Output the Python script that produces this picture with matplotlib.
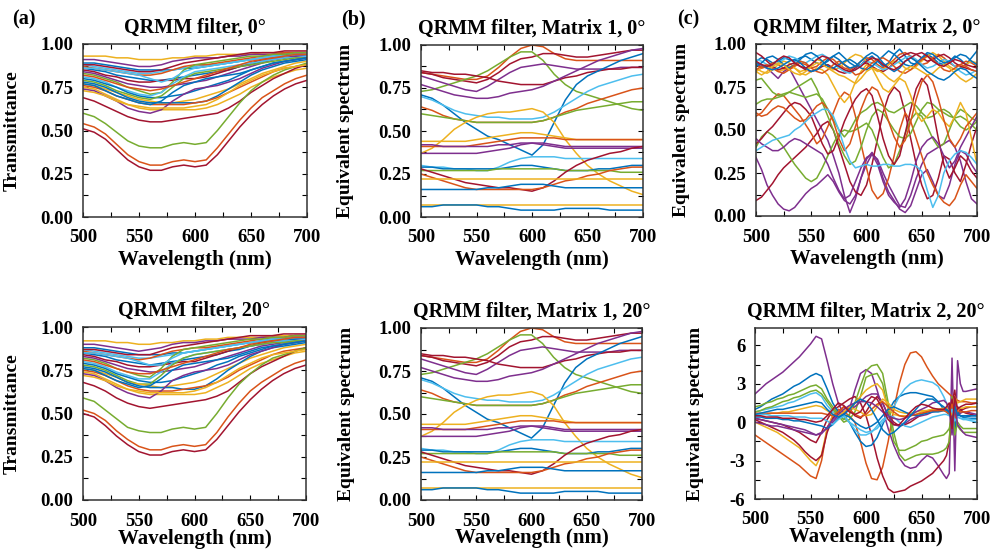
import numpy as np
import matplotlib
matplotlib.use("Agg")
import matplotlib.pyplot as plt
from matplotlib.ticker import MultipleLocator

plt.rcParams['font.family'] = ['Liberation Serif', 'DejaVu Serif']
plt.rcParams['font.weight'] = 'bold'
plt.rcParams['axes.unicode_minus'] = False

# MATLAB default colour order
MC = {'B': '#0072BD', 'O': '#D95319', 'Y': '#EDB120', 'P': '#7E2F8E',
      'G': '#77AC30', 'C': '#4DBEEE', 'R': '#A2142F'}

# ── wavelength grids (nm) ───────────────────────────────────────────────────
wl_ab = np.arange(500, 701, 10)
wl_c0 = np.arange(500, 701, 5)
wl_c20 = np.concatenate([np.arange(500, 671, 5),
                         [672.5, 675, 677.5, 680, 682.5, 685, 687.5, 690, 695, 700]])

# ── (a) QRMM filter transmittance, 0° ───────────────────────────────────────
a0_colors = "YPBCOBRGPCBGYBOYPRGORCOYBR"
a0_curves = [
    [0.93,0.93,0.93,0.92,0.92,0.91,0.91,0.91,0.92,0.92,0.93,0.93,0.94,0.94,0.94,0.94,0.95,0.95,0.95,0.95,0.95],
    [0.91,0.91,0.90,0.89,0.88,0.87,0.87,0.88,0.90,0.91,0.92,0.92,0.92,0.93,0.93,0.94,0.94,0.94,0.95,0.95,0.95],
    [0.89,0.89,0.88,0.87,0.86,0.85,0.85,0.85,0.85,0.86,0.86,0.87,0.88,0.89,0.90,0.91,0.92,0.93,0.94,0.94,0.95],
    [0.88,0.87,0.86,0.85,0.84,0.83,0.83,0.84,0.85,0.86,0.87,0.88,0.88,0.89,0.90,0.91,0.92,0.93,0.93,0.94,0.94],
    [0.87,0.86,0.85,0.84,0.83,0.82,0.82,0.83,0.85,0.87,0.88,0.88,0.89,0.90,0.91,0.92,0.93,0.94,0.95,0.95,0.95],
    [0.86,0.85,0.84,0.82,0.81,0.80,0.79,0.79,0.80,0.81,0.82,0.83,0.84,0.85,0.87,0.88,0.90,0.91,0.92,0.93,0.93],
    [0.85,0.84,0.82,0.81,0.79,0.78,0.78,0.79,0.79,0.80,0.80,0.81,0.83,0.85,0.87,0.89,0.91,0.92,0.93,0.94,0.94],
    [0.83,0.82,0.80,0.78,0.75,0.73,0.71,0.72,0.78,0.85,0.88,0.89,0.90,0.91,0.92,0.93,0.93,0.94,0.94,0.95,0.95],
    [0.84,0.83,0.81,0.79,0.77,0.76,0.75,0.75,0.76,0.77,0.78,0.79,0.81,0.83,0.85,0.87,0.89,0.91,0.92,0.93,0.93],
    [0.81,0.80,0.78,0.75,0.73,0.71,0.70,0.72,0.77,0.81,0.84,0.85,0.86,0.87,0.88,0.89,0.90,0.91,0.92,0.92,0.93],
    [0.80,0.79,0.77,0.75,0.72,0.70,0.69,0.69,0.70,0.71,0.73,0.75,0.77,0.79,0.82,0.85,0.87,0.89,0.90,0.91,0.92],
    [0.79,0.78,0.76,0.73,0.71,0.69,0.68,0.70,0.75,0.80,0.83,0.84,0.85,0.86,0.87,0.88,0.89,0.90,0.91,0.92,0.92],
    [0.77,0.76,0.74,0.72,0.70,0.68,0.67,0.66,0.66,0.67,0.68,0.70,0.72,0.74,0.77,0.80,0.83,0.85,0.87,0.89,0.90],
    [0.78,0.77,0.75,0.72,0.69,0.67,0.66,0.66,0.66,0.66,0.66,0.67,0.70,0.74,0.78,0.82,0.85,0.87,0.89,0.90,0.91],
    [0.76,0.75,0.73,0.70,0.68,0.66,0.65,0.65,0.65,0.65,0.66,0.67,0.69,0.72,0.75,0.78,0.81,0.84,0.86,0.87,0.88],
    [0.75,0.74,0.71,0.68,0.65,0.63,0.62,0.62,0.62,0.62,0.62,0.63,0.65,0.68,0.71,0.75,0.78,0.81,0.83,0.85,0.86],
    [0.74,0.73,0.70,0.67,0.63,0.61,0.60,0.62,0.67,0.71,0.74,0.75,0.76,0.78,0.80,0.83,0.86,0.88,0.90,0.91,0.92],
    [0.69,0.67,0.64,0.61,0.58,0.56,0.55,0.55,0.56,0.57,0.58,0.59,0.60,0.63,0.67,0.72,0.76,0.80,0.83,0.86,0.88],
    [0.60,0.58,0.54,0.49,0.44,0.41,0.40,0.40,0.42,0.43,0.42,0.43,0.50,0.58,0.66,0.73,0.78,0.82,0.85,0.87,0.89],
    [0.54,0.52,0.48,0.42,0.36,0.32,0.30,0.30,0.32,0.33,0.32,0.33,0.40,0.48,0.56,0.63,0.69,0.73,0.77,0.80,0.82],
    [0.51,0.49,0.45,0.39,0.33,0.29,0.27,0.27,0.29,0.30,0.29,0.30,0.36,0.44,0.52,0.59,0.65,0.70,0.74,0.77,0.79],
    [0.86,0.86,0.85,0.84,0.83,0.82,0.80,0.78,0.80,0.84,0.86,0.87,0.88,0.89,0.90,0.91,0.92,0.93,0.93,0.94,0.94],
    [0.82,0.81,0.79,0.77,0.75,0.74,0.73,0.74,0.76,0.78,0.80,0.82,0.84,0.86,0.88,0.90,0.91,0.92,0.93,0.94,0.94],
    [0.73,0.72,0.70,0.67,0.65,0.64,0.63,0.63,0.63,0.63,0.64,0.65,0.68,0.72,0.76,0.79,0.82,0.84,0.86,0.87,0.88],
    [0.77,0.76,0.73,0.70,0.68,0.66,0.65,0.67,0.72,0.76,0.78,0.80,0.81,0.82,0.83,0.85,0.87,0.89,0.90,0.91,0.92],
    [0.88,0.88,0.87,0.86,0.85,0.84,0.84,0.85,0.87,0.89,0.90,0.91,0.92,0.93,0.94,0.95,0.95,0.95,0.96,0.96,0.96],
]

# ── (a) QRMM filter transmittance, 20° ──────────────────────────────────────
a20_colors = a0_colors
a20_curves = [
    [0.92,0.92,0.92,0.91,0.91,0.90,0.90,0.91,0.91,0.92,0.92,0.93,0.93,0.94,0.94,0.94,0.94,0.95,0.95,0.95,0.95],
    [0.90,0.90,0.89,0.88,0.87,0.86,0.87,0.88,0.90,0.91,0.91,0.92,0.92,0.93,0.93,0.93,0.94,0.94,0.94,0.95,0.95],
    [0.88,0.88,0.87,0.86,0.85,0.84,0.84,0.84,0.85,0.85,0.86,0.87,0.88,0.89,0.90,0.91,0.92,0.93,0.93,0.94,0.94],
    [0.87,0.86,0.85,0.84,0.83,0.82,0.82,0.83,0.84,0.85,0.86,0.87,0.88,0.89,0.90,0.91,0.91,0.92,0.93,0.93,0.94],
    [0.86,0.85,0.84,0.83,0.82,0.81,0.82,0.84,0.86,0.87,0.88,0.88,0.89,0.90,0.91,0.92,0.93,0.94,0.94,0.95,0.95],
    [0.85,0.84,0.83,0.81,0.80,0.79,0.78,0.79,0.80,0.81,0.82,0.83,0.84,0.86,0.87,0.89,0.90,0.91,0.92,0.93,0.93],
    [0.84,0.83,0.81,0.80,0.78,0.77,0.77,0.78,0.79,0.80,0.80,0.82,0.84,0.86,0.88,0.89,0.91,0.92,0.93,0.94,0.94],
    [0.82,0.81,0.79,0.76,0.74,0.72,0.71,0.76,0.83,0.87,0.88,0.89,0.90,0.91,0.92,0.93,0.93,0.94,0.94,0.95,0.95],
    [0.83,0.82,0.80,0.78,0.76,0.75,0.74,0.74,0.75,0.76,0.77,0.79,0.81,0.83,0.85,0.87,0.89,0.90,0.91,0.92,0.93],
    [0.80,0.79,0.77,0.74,0.72,0.70,0.70,0.74,0.79,0.82,0.84,0.85,0.86,0.87,0.88,0.89,0.90,0.91,0.92,0.92,0.93],
    [0.79,0.78,0.76,0.73,0.71,0.69,0.68,0.68,0.69,0.71,0.73,0.75,0.78,0.80,0.83,0.85,0.87,0.89,0.90,0.91,0.92],
    [0.78,0.77,0.75,0.72,0.69,0.67,0.67,0.72,0.78,0.82,0.84,0.85,0.86,0.87,0.88,0.89,0.90,0.91,0.91,0.92,0.92],
    [0.76,0.75,0.73,0.71,0.68,0.67,0.66,0.65,0.66,0.67,0.68,0.70,0.73,0.76,0.79,0.82,0.84,0.86,0.88,0.89,0.90],
    [0.77,0.76,0.74,0.71,0.68,0.66,0.65,0.65,0.65,0.64,0.64,0.66,0.70,0.75,0.79,0.83,0.86,0.88,0.89,0.90,0.91],
    [0.75,0.74,0.72,0.69,0.66,0.64,0.63,0.63,0.63,0.64,0.65,0.66,0.68,0.71,0.75,0.78,0.81,0.84,0.86,0.87,0.88],
    [0.74,0.73,0.70,0.67,0.64,0.62,0.61,0.61,0.61,0.61,0.61,0.62,0.65,0.68,0.72,0.76,0.79,0.81,0.83,0.85,0.86],
    [0.73,0.72,0.69,0.65,0.62,0.60,0.59,0.63,0.69,0.72,0.74,0.75,0.76,0.78,0.81,0.84,0.86,0.88,0.90,0.91,0.92],
    [0.68,0.66,0.63,0.59,0.56,0.54,0.53,0.54,0.55,0.56,0.57,0.58,0.60,0.63,0.68,0.73,0.77,0.80,0.83,0.86,0.88],
    [0.59,0.57,0.52,0.47,0.42,0.40,0.39,0.39,0.41,0.42,0.41,0.42,0.50,0.59,0.67,0.73,0.78,0.82,0.84,0.86,0.88],
    [0.52,0.50,0.46,0.40,0.35,0.31,0.29,0.29,0.31,0.32,0.31,0.32,0.39,0.48,0.56,0.63,0.68,0.72,0.76,0.79,0.81],
    [0.50,0.48,0.43,0.37,0.32,0.28,0.26,0.26,0.28,0.29,0.28,0.29,0.35,0.43,0.51,0.58,0.64,0.69,0.73,0.76,0.78],
    [0.85,0.85,0.84,0.83,0.82,0.80,0.78,0.78,0.82,0.85,0.86,0.87,0.88,0.89,0.90,0.91,0.92,0.93,0.93,0.94,0.94],
    [0.81,0.80,0.78,0.76,0.74,0.73,0.73,0.75,0.77,0.79,0.81,0.83,0.85,0.87,0.88,0.90,0.91,0.92,0.93,0.94,0.94],
    [0.72,0.71,0.69,0.66,0.64,0.63,0.62,0.62,0.62,0.62,0.63,0.65,0.68,0.72,0.76,0.79,0.82,0.84,0.85,0.86,0.87],
    [0.76,0.75,0.72,0.69,0.67,0.65,0.66,0.70,0.75,0.78,0.79,0.80,0.81,0.82,0.84,0.86,0.88,0.89,0.90,0.91,0.92],
    [0.87,0.87,0.86,0.85,0.84,0.84,0.84,0.86,0.88,0.89,0.90,0.91,0.92,0.93,0.94,0.95,0.95,0.95,0.96,0.96,0.96],
]

# ── (b) Matrix 1 equivalent spectra (0° and 20° read the same) ──────────────
b0_colors = "ORGPRPBCOGYYOPPCBGROYBYB"
b0_curves = [
    [0.84,0.83,0.82,0.81,0.80,0.80,0.82,0.87,0.93,0.98,1.00,0.99,0.95,0.92,0.91,0.91,0.91,0.91,0.91,0.91,0.91],
    [0.84,0.83,0.81,0.80,0.79,0.78,0.80,0.84,0.89,0.92,0.93,0.95,0.95,0.94,0.93,0.93,0.94,0.95,0.96,0.97,0.97],
    [0.73,0.74,0.76,0.78,0.80,0.82,0.85,0.89,0.93,0.96,0.96,0.91,0.83,0.77,0.73,0.71,0.69,0.67,0.65,0.63,0.62],
    [0.82,0.80,0.78,0.76,0.74,0.73,0.76,0.80,0.84,0.87,0.88,0.89,0.88,0.87,0.86,0.86,0.86,0.86,0.87,0.87,0.87],
    [0.85,0.84,0.84,0.83,0.83,0.82,0.81,0.79,0.78,0.77,0.77,0.77,0.79,0.81,0.82,0.84,0.85,0.86,0.86,0.87,0.87],
    [0.77,0.75,0.73,0.71,0.70,0.69,0.69,0.70,0.72,0.73,0.74,0.76,0.79,0.82,0.85,0.88,0.91,0.93,0.95,0.97,0.98],
    [0.71,0.69,0.65,0.60,0.55,0.51,0.47,0.45,0.42,0.39,0.36,0.42,0.55,0.68,0.77,0.82,0.85,0.88,0.91,0.93,0.95],
    [0.70,0.68,0.65,0.62,0.60,0.59,0.58,0.58,0.57,0.57,0.57,0.58,0.61,0.65,0.69,0.73,0.76,0.78,0.80,0.82,0.83],
    [0.64,0.62,0.59,0.57,0.56,0.55,0.55,0.55,0.55,0.55,0.55,0.56,0.58,0.61,0.63,0.66,0.68,0.70,0.72,0.74,0.75],
    [0.60,0.59,0.58,0.57,0.56,0.55,0.55,0.55,0.55,0.55,0.55,0.56,0.58,0.60,0.62,0.63,0.64,0.65,0.66,0.67,0.67],
    [0.37,0.40,0.45,0.51,0.55,0.58,0.60,0.61,0.61,0.62,0.63,0.61,0.55,0.45,0.37,0.30,0.25,0.21,0.18,0.15,0.13],
    [0.44,0.44,0.44,0.44,0.44,0.45,0.46,0.47,0.48,0.49,0.49,0.48,0.47,0.46,0.45,0.45,0.45,0.45,0.45,0.45,0.45],
    [0.41,0.41,0.41,0.41,0.41,0.42,0.43,0.44,0.45,0.46,0.46,0.46,0.46,0.45,0.45,0.45,0.45,0.45,0.45,0.45,0.45],
    [0.42,0.42,0.41,0.41,0.41,0.41,0.41,0.42,0.42,0.43,0.43,0.43,0.42,0.41,0.41,0.41,0.41,0.41,0.41,0.41,0.41],
    [0.37,0.37,0.37,0.37,0.37,0.37,0.38,0.39,0.40,0.42,0.43,0.42,0.41,0.40,0.40,0.40,0.40,0.40,0.40,0.40,0.40],
    [0.30,0.29,0.29,0.28,0.28,0.27,0.27,0.29,0.32,0.34,0.35,0.35,0.35,0.34,0.34,0.34,0.34,0.34,0.34,0.34,0.34],
    [0.29,0.29,0.28,0.28,0.28,0.28,0.28,0.28,0.29,0.30,0.30,0.29,0.28,0.27,0.27,0.27,0.28,0.28,0.29,0.30,0.30],
    [0.27,0.27,0.27,0.27,0.27,0.27,0.27,0.28,0.28,0.28,0.28,0.28,0.28,0.27,0.27,0.27,0.27,0.27,0.26,0.26,0.26],
    [0.28,0.26,0.24,0.22,0.20,0.19,0.18,0.17,0.17,0.16,0.15,0.17,0.21,0.26,0.30,0.33,0.35,0.37,0.38,0.40,0.41],
    [0.25,0.23,0.21,0.19,0.17,0.16,0.16,0.16,0.16,0.16,0.16,0.17,0.19,0.21,0.22,0.24,0.25,0.27,0.28,0.29,0.29],
    [0.22,0.22,0.22,0.22,0.22,0.22,0.22,0.22,0.22,0.22,0.22,0.22,0.22,0.22,0.22,0.22,0.22,0.22,0.22,0.22,0.22],
    [0.16,0.16,0.16,0.16,0.16,0.16,0.17,0.17,0.18,0.19,0.19,0.19,0.18,0.17,0.17,0.17,0.17,0.17,0.17,0.17,0.17],
    [0.07,0.07,0.07,0.07,0.07,0.07,0.07,0.07,0.07,0.07,0.07,0.07,0.07,0.07,0.07,0.07,0.07,0.07,0.07,0.07,0.07],
    [0.06,0.06,0.07,0.07,0.07,0.07,0.06,0.06,0.05,0.04,0.04,0.04,0.04,0.05,0.05,0.05,0.05,0.04,0.04,0.04,0.04],
]
b20_colors = b0_colors
b20_curves = b0_curves

# ── (c) Matrix 2 equivalent spectra, 0° ─────────────────────────────────────
c0_colors = "PPROGGGRPYOCBOYRCBOYBR"
c0_curves = [
    [0.88,0.87,0.86,0.83,0.80,0.84,0.86,0.80,0.74,0.68, 0.62,0.56,0.50,0.44,0.35,0.25,0.12,0.02,0.10,0.22,
     0.30,0.36,0.33,0.25,0.18,0.12,0.06,0.05,0.12,0.22, 0.30,0.36,0.38,0.40,0.42,0.44,0.40,0.32,0.20,0.10, 0.07],
    [0.34,0.27,0.18,0.12,0.07,0.04,0.03,0.05,0.09,0.13, 0.16,0.18,0.21,0.24,0.20,0.14,0.09,0.07,0.12,0.22,
     0.33,0.37,0.32,0.22,0.14,0.09,0.04,0.02,0.06,0.15, 0.24,0.27,0.20,0.12,0.10,0.18,0.30,0.38,0.36,0.30, 0.25],
    [0.09,0.11,0.15,0.19,0.24,0.28,0.31,0.34,0.37,0.40, 0.44,0.48,0.53,0.55,0.50,0.40,0.30,0.20,0.14,0.12,
     0.18,0.30,0.45,0.60,0.70,0.75,0.72,0.60,0.45,0.30, 0.18,0.10,0.12,0.22,0.35,0.33,0.25,0.20,0.30,0.42, 0.52],
    [0.58,0.60,0.64,0.68,0.71,0.70,0.66,0.62,0.58,0.53, 0.48,0.42,0.45,0.52,0.60,0.68,0.72,0.70,0.58,0.42,
     0.28,0.15,0.10,0.13,0.22,0.35,0.50,0.60,0.55,0.45, 0.35,0.25,0.18,0.12,0.08,0.06,0.10,0.18,0.24,0.20, 0.16],
    [0.40,0.46,0.49,0.47,0.44,0.40,0.35,0.30,0.26,0.22, 0.20,0.22,0.28,0.35,0.42,0.48,0.50,0.49,0.50,0.52,
     0.54,0.50,0.42,0.34,0.28,0.30,0.38,0.48,0.56,0.60, 0.58,0.52,0.45,0.40,0.42,0.50,0.58,0.62,0.60,0.57, 0.55],
    [0.79,0.80,0.76,0.72,0.70,0.71,0.72,0.74,0.76,0.78, 0.80,0.74,0.66,0.58,0.50,0.42,0.35,0.30,0.32,0.40,
     0.50,0.58,0.62,0.60,0.55,0.50,0.46,0.45,0.48,0.55, 0.62,0.66,0.65,0.62,0.60,0.58,0.57,0.58,0.56,0.53, 0.50],
    [0.65,0.67,0.68,0.68,0.69,0.70,0.72,0.71,0.70,0.69, 0.70,0.71,0.68,0.62,0.56,0.50,0.46,0.50,0.56,0.60,
     0.62,0.65,0.66,0.64,0.61,0.60,0.62,0.64,0.66,0.64, 0.60,0.57,0.58,0.61,0.62,0.60,0.56,0.52,0.50,0.52, 0.55],
    [0.42,0.45,0.49,0.52,0.56,0.60,0.64,0.66,0.65,0.62, 0.58,0.50,0.42,0.36,0.38,0.46,0.55,0.62,0.68,0.72,
     0.74,0.70,0.58,0.45,0.35,0.30,0.35,0.48,0.62,0.74, 0.80,0.76,0.62,0.45,0.30,0.22,0.28,0.35,0.32,0.26, 0.22],
    [0.45,0.42,0.40,0.38,0.38,0.40,0.43,0.45,0.44,0.42, 0.40,0.38,0.36,0.30,0.22,0.15,0.10,0.12,0.20,0.28,
     0.34,0.36,0.30,0.20,0.12,0.08,0.05,0.10,0.20,0.32, 0.40,0.44,0.46,0.42,0.35,0.28,0.32,0.40,0.46,0.52, 0.58],
    [0.84,0.86,0.87,0.86,0.84,0.85,0.87,0.86,0.83,0.82, 0.84,0.86,0.85,0.82,0.76,0.70,0.66,0.70,0.78,0.84,
     0.88,0.86,0.80,0.74,0.72,0.76,0.80,0.78,0.70,0.60, 0.55,0.58,0.62,0.60,0.55,0.52,0.58,0.66,0.60,0.45, 0.30],
    [0.60,0.58,0.59,0.62,0.64,0.63,0.60,0.57,0.55,0.56, 0.60,0.64,0.66,0.62,0.55,0.45,0.38,0.42,0.52,0.62,
     0.70,0.75,0.73,0.65,0.55,0.46,0.40,0.44,0.55,0.68, 0.78,0.82,0.78,0.68,0.56,0.45,0.40,0.45,0.52,0.56, 0.60],
    [0.38,0.40,0.42,0.44,0.45,0.46,0.47,0.50,0.52,0.55, 0.58,0.60,0.62,0.62,0.58,0.50,0.40,0.32,0.28,0.29,
     0.30,0.29,0.29,0.30,0.30,0.29,0.29,0.30,0.30,0.29, 0.26,0.15,0.05,0.12,0.25,0.32,0.36,0.38,0.37,0.34, 0.30],
    [0.90,0.92,0.91,0.89,0.90,0.92,0.91,0.90,0.92,0.93, 0.91,0.89,0.88,0.90,0.93,0.95,0.92,0.89,0.87,0.88,
     0.91,0.93,0.90,0.87,0.89,0.94,0.97,0.93,0.89,0.88, 0.91,0.94,0.92,0.89,0.88,0.90,0.93,0.91,0.88,0.92, 0.96],
    [0.88,0.86,0.87,0.89,0.88,0.86,0.85,0.87,0.89,0.88, 0.86,0.87,0.90,0.92,0.91,0.88,0.86,0.85,0.87,0.90,
     0.92,0.91,0.88,0.86,0.88,0.91,0.94,0.95,0.93,0.90, 0.88,0.89,0.92,0.94,0.92,0.89,0.87,0.88,0.90,0.89, 0.87],
    [0.86,0.84,0.83,0.85,0.88,0.90,0.89,0.86,0.84,0.85, 0.88,0.91,0.90,0.87,0.85,0.86,0.89,0.92,0.94,0.93,
     0.90,0.86,0.84,0.85,0.88,0.90,0.89,0.86,0.85,0.87, 0.90,0.93,0.95,0.93,0.90,0.87,0.85,0.86,0.88,0.90, 0.89],
    [0.95,0.93,0.90,0.87,0.85,0.86,0.88,0.89,0.87,0.85, 0.84,0.85,0.87,0.88,0.86,0.84,0.83,0.84,0.86,0.88,
     0.89,0.87,0.85,0.84,0.86,0.89,0.92,0.94,0.95,0.94, 0.92,0.90,0.91,0.93,0.94,0.92,0.89,0.87,0.86,0.85, 0.84],
    [0.91,0.90,0.88,0.87,0.89,0.91,0.93,0.92,0.90,0.89, 0.91,0.93,0.94,0.92,0.89,0.86,0.84,0.83,0.85,0.88,
     0.90,0.89,0.87,0.85,0.86,0.88,0.90,0.92,0.93,0.91, 0.88,0.86,0.87,0.89,0.91,0.90,0.87,0.84,0.82,0.83, 0.85],
    [0.87,0.89,0.92,0.93,0.91,0.88,0.86,0.88,0.91,0.94, 0.95,0.93,0.90,0.87,0.86,0.88,0.90,0.91,0.89,0.86,
     0.85,0.87,0.90,0.93,0.96,0.94,0.91,0.88,0.87,0.89, 0.92,0.95,0.94,0.91,0.89,0.90,0.92,0.94,0.93,0.90, 0.88],
    [0.85,0.87,0.88,0.86,0.84,0.83,0.85,0.88,0.90,0.89, 0.86,0.84,0.83,0.85,0.88,0.90,0.88,0.85,0.82,0.83,
     0.86,0.89,0.91,0.92,0.90,0.87,0.84,0.83,0.85,0.88, 0.91,0.93,0.91,0.88,0.85,0.84,0.86,0.88,0.87,0.85, 0.84],
    [0.84,0.82,0.84,0.87,0.89,0.88,0.85,0.83,0.82,0.84, 0.87,0.89,0.88,0.86,0.84,0.82,0.81,0.79,0.77,0.80,
     0.84,0.86,0.85,0.83,0.80,0.78,0.81,0.85,0.87,0.86, 0.84,0.82,0.83,0.86,0.88,0.86,0.83,0.80,0.78,0.80, 0.83],
    [0.89,0.88,0.86,0.85,0.86,0.88,0.90,0.91,0.89,0.86, 0.84,0.85,0.88,0.91,0.93,0.91,0.88,0.86,0.87,0.90,
     0.93,0.95,0.93,0.89,0.86,0.84,0.86,0.90,0.92,0.90, 0.87,0.84,0.82,0.80,0.79,0.81,0.84,0.86,0.85,0.82, 0.80],
    [0.90,0.88,0.87,0.88,0.91,0.93,0.92,0.89,0.87,0.86, 0.88,0.91,0.93,0.92,0.89,0.87,0.85,0.84,0.85,0.87,
     0.90,0.92,0.91,0.88,0.86,0.85,0.87,0.90,0.92,0.94, 0.95,0.93,0.90,0.88,0.87,0.89,0.91,0.90,0.88,0.87, 0.86],
]

# ── (c) Matrix 2 equivalent spectra, 20° ────────────────────────────────────
c20_colors = "PORBCGGYRPYBOCPBR"
c20_curves = [
    [2.2,2.6,3.0,3.3,3.6,3.9,4.3,4.7,5.1,5.6, 6.1,6.7,6.5,4.8,3.0,1.5,0.6,1.0,2.5,3.8,
     4.1,3.8,2.5,1.0,-0.5,-1.8,-2.8,-3.4,-3.6,-3.5, -3.0,-2.6,-2.8,-3.4,-4.1, -4.4,-4.0,5.0,-3.8,4.8,3.0,2.4,2.4,2.5,2.6],
    [-1.0,-1.3,-1.6,-1.9,-2.2,-2.5,-2.8,-3.1,-3.4,-3.8, -4.2,-4.4,-3.0,-0.5,0.5,1.0,0.8,0.5,0.0,-1.5,
     -3.2,-4.4,-4.5,-3.5,-1.5,1.0,3.0,4.5,5.4,5.5, 5.1,4.3,3.6,3.0,2.6, 2.4,2.2,2.0,1.8,1.7,1.6,1.6,1.6,1.5,1.5],
    [0.3,0.2,0.1,0.0,-0.1,-0.2,-0.4,-0.6,-0.8,-1.1, -1.4,-1.6,-0.8,0.2,0.9,1.2,1.5,1.8,2.0,1.5,
     0.5,-1.0,-2.8,-4.2,-5.2,-5.5,-5.4,-5.3,-5.0,-4.8, -4.6,-4.3,-4.0,-3.5,-3.0, -2.6,-1.5,1.5,2.5,0.5,1.0,0.8,0.7,0.6,0.5],
    [1.0,1.2,1.5,1.8,2.0,2.2,2.5,2.8,3.0,3.3, 3.6,3.8,3.6,2.6,1.5,0.8,0.5,0.0,-0.8,-1.5,
     -1.9,-1.8,-1.2,-0.2,0.8,1.6,2.0,2.2,2.3,2.3, 2.2,2.1,2.0,1.6,1.0, 0.8,0.6,1.5,-0.5,0.8,0.5,0.4,0.3,0.3,0.3],
    [0.8,0.9,1.0,1.1,1.2,1.3,1.5,1.6,1.8,2.0, 2.2,2.3,2.0,1.3,0.8,0.5,0.3,0.0,-0.3,-0.6,
     -0.8,-0.7,-0.5,0.0,0.5,1.2,2.0,2.6,3.0,3.2, 3.3,3.2,3.1,2.8,2.0, 1.5,1.0,0.8,0.5,0.4,0.3,0.3,0.3,0.2,0.2],
    [1.2,1.3,1.5,1.6,1.8,1.9,2.1,2.2,2.4,2.6, 2.8,2.9,2.6,1.8,1.2,0.6,0.2,0.6,1.5,2.8,
     4.0,4.4,4.5,3.8,1.5,-0.8,-2.5,-3.0,-2.8,-2.6, -2.5,-2.5,-2.5,-2.4,-2.2, -2.0,-1.5,2.0,-1.0,0.0,-0.3,-0.5,-0.5,-0.5,-0.5],
    [0.8,0.9,1.1,1.2,1.4,1.6,1.7,1.9,2.0,2.2, 2.4,2.5,2.2,1.6,1.0,0.5,0.0,0.2,0.8,2.0,
     3.5,3.7,3.8,3.0,1.0,-1.5,-2.2,-2.2,-2.0,-1.8, -1.5,-1.4,-1.2,-1.1,-1.0, -0.8,-0.5,0.5,0.8,-0.3,-0.6,-0.8,-0.8,-0.8,-0.8],
    [0.0,-0.2,-0.4,-0.6,-0.8,-1.1,-1.4,-1.7,-2.0,-2.5, -3.0,-3.4,-2.5,-0.5,0.5,0.8,1.0,1.2,1.5,2.0,
     2.5,2.8,3.0,2.5,1.0,0.6,0.5,0.5,0.5,0.6, 0.8,0.9,1.0,1.0,1.0, 1.1,1.2,0.5,2.0,1.5,1.6,1.7,1.8,1.8,1.8],
    [0.2,0.0,-0.2,-0.4,-0.6,-0.8,-1.1,-1.4,-1.8,-2.3, -2.7,-3.0,-2.6,-0.8,0.3,0.8,1.2,1.0,0.5,0.3,
     0.8,1.5,2.0,1.5,0.5,0.0,-0.3,-0.2,0.0,0.3, 0.6,0.8,1.0,1.0,1.0, 1.0,0.8,1.8,0.2,1.2,1.0,1.0,1.1,1.2,1.2],
    [0.0,-0.1,-0.2,-0.3,-0.3,-0.4,-0.5,-0.6,-0.7,-0.8, -0.9,-1.0,-0.8,-0.5,0.0,0.5,0.8,1.0,1.2,1.6,
     2.0,2.2,2.2,1.5,0.5,-0.2,-0.3,-0.1,0.2,0.4, 0.5,0.6,0.8,0.9,1.0, 1.0,0.8,0.2,1.5,0.5,0.7,0.8,0.8,0.7,0.6],
    [0.5,0.6,0.6,0.7,0.7,0.8,0.8,0.9,1.0,1.1, 1.2,1.3,1.2,0.9,0.6,0.5,0.8,1.2,1.0,0.8,
     0.5,0.6,1.2,1.8,1.5,1.0,0.8,0.7,0.7,0.8, 0.9,0.9,1.0,1.0,1.1, 1.1,1.0,0.6,1.3,1.0,1.1,1.1,1.2,1.2,1.2],
    [0.4,0.4,0.3,0.3,0.3,0.2,0.2,0.1,0.1,0.0, -0.1,-0.2,-0.3,-0.5,-0.2,0.3,0.6,0.4,0.0,-0.3,
     -0.5,-0.3,0.0,0.5,1.0,1.2,1.0,0.8,0.6,0.5, 0.6,0.7,0.8,0.8,0.9, 0.9,0.7,1.2,0.3,0.6,0.5,0.5,0.5,0.5,0.5],
    [0.7,0.7,0.7,0.7,0.7,0.7,0.7,0.7,0.7,0.7, 0.7,0.7,0.7,0.6,0.5,0.8,1.2,1.0,0.6,0.4,
     0.6,1.0,1.4,1.6,1.2,0.8,0.5,0.4,0.5,0.6, 0.7,0.8,0.9,0.9,0.9, 0.8,0.6,1.4,0.2,0.9,0.8,0.8,0.8,0.9,0.9],
    [0.6,0.6,0.6,0.5,0.5,0.5,0.5,0.4,0.4,0.4, 0.3,0.3,0.3,0.1,-0.2,0.2,0.5,0.0,-0.6,-1.0,
     -1.0,-0.8,-0.3,0.2,0.5,0.4,0.0,-0.3,-0.4,-0.2, 0.0,0.2,0.4,0.5,0.6, 0.6,0.5,1.0,0.1,0.4,0.3,0.2,0.2,0.1,0.0],
    [0.3,0.2,0.1,0.0,-0.1,-0.2,-0.3,-0.4,-0.5,-0.6, -0.8,-1.0,-0.9,-0.4,0.2,0.6,1.0,1.3,1.5,1.6,
     1.6,1.5,1.2,0.8,0.5,0.3,0.2,0.3,0.5,0.8, 1.0,1.2,1.5,1.6,1.7, 1.5,1.0,-1.0,1.5,-0.2,-0.5,-0.8,-1.0,-1.1,-1.2],
    [0.6,0.7,0.8,0.9,1.0,1.0,1.1,1.2,1.3,1.4, 1.5,1.6,1.5,1.0,0.6,0.4,0.6,1.0,1.5,1.8,
     1.6,1.0,0.2,-0.6,-1.0,-0.8,-0.4,0.0,0.5,1.0, 1.5,1.8,1.8,1.5,1.2, 1.0,0.8,0.0,1.2,0.6,0.5,0.4,0.4,0.5,0.5],
    [0.5,0.5,0.4,0.4,0.4,0.3,0.3,0.3,0.2,0.2, 0.1,0.0,0.1,0.5,1.0,1.5,1.3,0.8,0.6,0.8,
     1.5,2.0,1.8,1.0,0.2,-0.2,-0.2,0.3,0.8,1.2, 1.4,1.3,1.1,1.0,1.0, 1.2,1.5,-0.5,2.0,1.0,1.2,1.3,1.4,1.4,1.5],
]

titles = ["QRMM filter, 0°", "QRMM filter, Matrix 1, 0°", "QRMM filter, Matrix 2, 0°",
          "QRMM filter, 20°", "QRMM filter, Matrix 1, 20°", "QRMM filter, Matrix 2, 20°"]
ylabels = ["Transmittance", "Equivalent spectrum", "Equivalent spectrum"] * 2
panel_tags = ["(a)", "(b)", "(c)"]

TICK_FS = 13.5
TITLE_FS = 14.5
XLAB_FS = 15
YLAB_FS = 14


def draw_panel(ax, wl, curves, colors, ylim, major, minor, title, ylabel, ylab_x, xlab_y, fmt):
    for vals, c in zip(curves, colors):
        ax.plot(wl, vals, color=MC[c], lw=1.1)
    ax.set_xlim(500, 700)
    ax.set_ylim(*ylim)
    ax.xaxis.set_major_locator(MultipleLocator(50))
    ax.xaxis.set_minor_locator(MultipleLocator(25))
    ax.yaxis.set_major_locator(MultipleLocator(major))
    ax.yaxis.set_minor_locator(MultipleLocator(minor))
    ax.yaxis.set_major_formatter(fmt)
    ax.tick_params(which='both', direction='in', top=True, right=True,
                   length=3.5, width=0.8, labelsize=TICK_FS)
    ax.tick_params(axis='x', which='major', pad=9)
    ax.tick_params(axis='y', which='major', pad=7)
    for s in ax.spines.values():
        s.set_linewidth(1.1)
        s.set_color('#333333')
    ax.set_title(title, fontsize=TITLE_FS, fontweight='bold', pad=8)
    ax.set_xlabel("Wavelength (nm)", fontsize=XLAB_FS, fontweight='bold')
    ax.xaxis.set_label_coords(0.5, xlab_y)
    ax.set_ylabel(ylabel, fontsize=YLAB_FS, fontweight='bold')
    ax.yaxis.set_label_coords(ylab_x, 0.5)


fig = plt.figure(figsize=(9.96, 5.56), dpi=100)

W, H = 996.0, 556.0
# axes boxes in pixels: left, top, right, bottom
boxes = [(83, 44, 307, 217), (421, 45, 643, 217), (756, 44, 977, 216),
         (83, 327, 306, 500), (421, 328, 642, 500), (755, 328, 977, 499)]
axes = []
for (l, t, r, b) in boxes:
    axes.append(fig.add_axes([l / W, 1 - b / H, (r - l) / W, (b - t) / H]))

f2 = lambda v, p: f"{v:.2f}"
fi = lambda v, p: f"{v:.0f}"

draw_panel(axes[0], wl_ab, a0_curves, a0_colors, (0, 1), 0.25, 0.125, titles[0], ylabels[0], -0.28, -0.19, f2)
draw_panel(axes[1], wl_ab, b0_curves, b0_colors, (0, 1), 0.25, 0.125, titles[1], ylabels[1], -0.30, -0.19, f2)
draw_panel(axes[2], wl_c0, c0_curves, c0_colors, (0, 1), 0.25, 0.125, titles[2], ylabels[2], -0.30, -0.19, f2)
draw_panel(axes[3], wl_ab, a20_curves, a20_colors, (0, 1), 0.25, 0.125, titles[3], ylabels[3], -0.28, -0.165, f2)
draw_panel(axes[4], wl_ab, b20_curves, b20_colors, (0, 1), 0.25, 0.125, titles[4], ylabels[4], -0.30, -0.165, f2)
draw_panel(axes[5], wl_c20, c20_curves, c20_colors, (-6, 7.35), 3, 1.5, titles[5], ylabels[5], -0.23, -0.165, fi)

for tag, x in zip(panel_tags, [12, 341, 677]):
    fig.text(x / W, 1 - 19 / H, tag, fontsize=14.5, fontweight='bold', va='center', ha='left')

fig.savefig("out.png", dpi=100)
